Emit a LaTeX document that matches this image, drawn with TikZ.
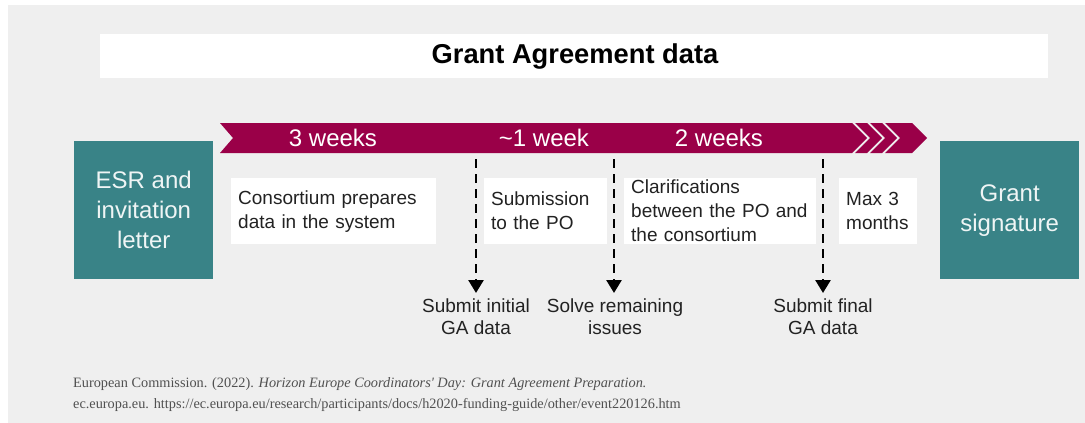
\documentclass[tikz,border=0pt]{standalone}
\usepackage{fontspec}
\setmainfont{Liberation Sans}
\newfontfamily\citefont{Liberation Serif}
\usetikzlibrary{arrows.meta}

\definecolor{pagegrey}{RGB}{239,239,239}
\definecolor{bandred}{RGB}{154,0,72}
\definecolor{tealbox}{RGB}{57,131,135}
\definecolor{boxtext}{RGB}{34,34,34}
\definecolor{citegrey}{RGB}{80,80,80}

\tikzset{
  endbox/.style={fill=tealbox, draw=none, anchor=north west,
    minimum width=139pt, minimum height=138pt, inner sep=0pt,
    align=center, text=white!92!tealbox,
    font=\fontsize{24}{30}\selectfont},
  notebox/.style={fill=white, draw=none, anchor=north west,
    minimum height=66pt, inner xsep=7pt, inner ysep=0pt, align=left,
    text=boxtext, font=\fontsize{19}{24}\selectfont},
  bandlabel/.style={text=white, inner sep=0pt,
    font=\fontsize{24}{28}\selectfont},
  milestone/.style={anchor=north, inner sep=0pt, align=center,
    text=boxtext, font=\fontsize{19}{22}\selectfont},
  dasharrow/.style={line width=2.6pt, dash pattern=on 9pt off 6pt,
    -{Triangle[length=13pt,width=15pt]}},
  chevron/.style={fill=bandred, draw=none}
}

\begin{document}
\begin{tikzpicture}[x=1pt,y=-1pt]
  % page and grey panel
  \useasboundingbox (0,0) rectangle (1085,423);
  \fill[white] (0,0) rectangle (1085,423);
  \fill[pagegrey] (8,5) rectangle (1085,423);

  % title bar
  \fill[white] (100,34) rectangle (1048,78);
  \node[inner sep=0pt, font=\fontsize{27.3}{31}\selectfont\bfseries] (title)
    at (575,57) {Grant Agreement data};

  % timeline band with closing chevrons
  \fill[chevron] (220,123) -- (852,123) -- (867,138) -- (852,153)
    -- (220,153) -- (233,138) -- cycle;
  \fill[chevron] (855,123) -- (867,123) -- (882,138) -- (867,153)
    -- (855,153) -- (870,138) -- cycle;
  \fill[chevron] (870,123) -- (882,123) -- (897,138) -- (882,153)
    -- (870,153) -- (885,138) -- cycle;
  \fill[chevron] (885,123) -- (912,123) -- (927,138) -- (912,153)
    -- (885,153) -- (900,138) -- cycle;

  \node[bandlabel] (w1) at (333,138) {3 weeks};
  \node[bandlabel] (w2) at (544,138) {\textasciitilde1 week};
  \node[bandlabel] (w3) at (719,138) {2 weeks};

  % start and end boxes
  \node[endbox] (esr) at (74,141) {ESR and\\invitation\\letter};
  \node[endbox] (sign) at (940,141) {Grant\\signature};

  % phase descriptions
  \node[notebox, minimum width=205pt, text width=191pt] (p1) at (231,178)
    {Consortium prepares\\data in the system};
  \node[notebox, minimum width=123pt, text width=109pt] (p2) at (484,178)
    {Submission\\to the PO};
  \node[notebox, minimum width=192pt, text width=178pt] (p3) at (624,178)
    {Clarifications\\between the PO and\\the consortium};
  \node[notebox, minimum width=78pt, text width=64pt] (p4) at (839,178)
    {Max 3\\months};

  % milestones
  \coordinate (m1) at (476,159);
  \coordinate (m2) at (614,159);
  \coordinate (m3) at (823,159);
  \node[milestone] (s1) at (476,299) {Submit initial\\GA data};
  \node[milestone] (s2) at (615,299) {Solve remaining\\issues};
  \node[milestone] (s3) at (823,299) {Submit final\\GA data};
  \draw[dasharrow] (m1) -- ([yshift=6pt]s1.north);
  \draw[dasharrow] (m2) -- ([yshift=6pt]s1.north -| m2);
  \draw[dasharrow] (m3) -- ([yshift=6pt]s3.north);

  % source
  \node[anchor=north west, inner sep=0pt, align=left, text=citegrey,
    font=\citefont\fontsize{14.3}{21}\selectfont] (cite) at (73,377)
    {European Commission. (2022). \textit{Horizon Europe Coordinators' Day: Grant Agreement Preparation.}\\
     ec.europa.eu. https://ec.europa.eu/research/participants/docs/h2020-funding-guide/other/event220126.htm};
\end{tikzpicture}
\end{document}
